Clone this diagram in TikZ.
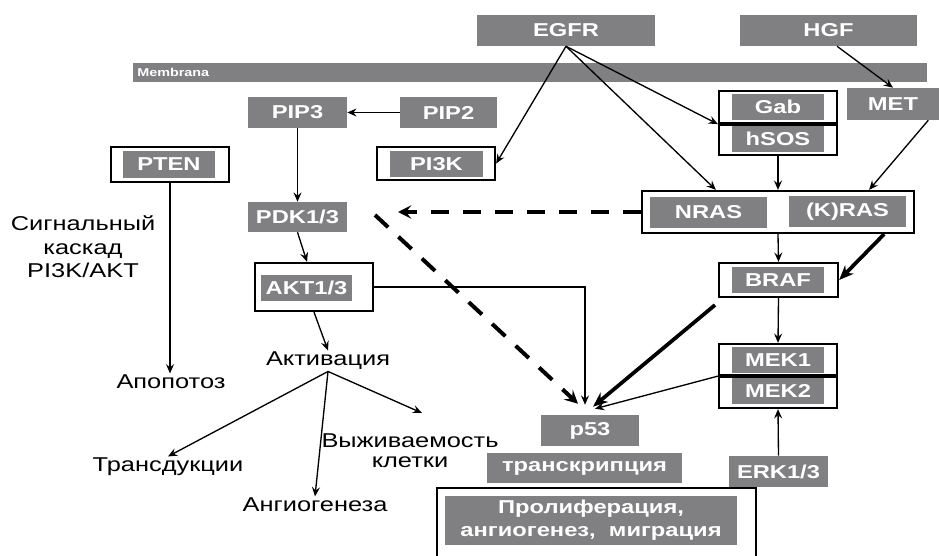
\documentclass[tikz,border=0pt]{standalone}
\usepackage{fontspec}
\setmainfont{Liberation Sans}[FakeStretch=1.27]
\usetikzlibrary{arrows.meta,calc}
\definecolor{bgray}{RGB}{128,128,131}
\tikzset{
  gb/.style={fill=bgray, text=white, font=\bfseries\fontsize{14}{17}\selectfont, inner sep=0pt, draw=none, align=center},
  fr/.style={draw=black, line width=1.7pt, inner sep=0pt, fill=none},
  lbl/.style={font=\fontsize{15}{15}\selectfont, inner sep=1pt, align=center},
  arr/.style={-{Stealth[length=7pt,width=6pt,inset=2.5pt]}, line width=1pt},
  thickarr/.style={-{Stealth[length=11pt,width=9pt,inset=3.5pt]}, line width=2.8pt},
  dasharr/.style={-{Stealth[length=10pt,width=10pt,inset=4pt]}, line width=3pt, dash pattern=on 13.5pt off 10.5pt},
  divider/.style={line width=2.6pt},
}
\newcommand\rnode[7]{\node[#1, minimum width={(#5-#3)*0.75pt}, minimum height={(#6-#4)*0.75pt}] (#2) at ({(#3+#5)/2},{(#4+#6)/2}) {#7};}
\begin{document}
\begin{tikzpicture}[x=0.75pt,y=-0.75pt]
\useasboundingbox (0,0) rectangle (939,556);
% boxes
\rnode{gb}{egfr}{477}{15}{655}{46}{EGFR}
\rnode{gb}{hgf}{740}{15}{917}{46}{HGF}
\rnode{gb}{membr}{133}{63}{927}{82}{}
\node[anchor=west, text=white, font=\bfseries\fontsize{8.5}{9}\selectfont, inner sep=0pt] (memlbl) at (137,72.5) {Membrana};
\rnode{gb}{pip3}{248}{97}{347}{128}{PIP3}
\rnode{gb}{pip2}{400}{97}{497}{128}{PIP2}
\rnode{fr}{ptenf}{111}{147}{229}{182}{}
\rnode{gb}{pten}{123}{151}{215}{178}{PTEN}
\rnode{fr}{pi3kf}{377}{147}{495}{180}{}
\rnode{gb}{pi3k}{390}{151}{483}{177}{PI3K}
\rnode{fr}{gabf}{719}{91}{837}{123}{}
\rnode{gb}{gab}{732}{94}{824}{120}{Gab}
\rnode{fr}{hsosf}{719}{123}{837}{155}{}
\rnode{gb}{hsos}{732}{126}{824}{152}{hSOS}
\draw[divider] (gabf.south west) -- (gabf.south east);
\rnode{gb}{met}{847}{88}{939}{120}{MET}
\rnode{fr}{rasf}{642}{191}{914}{233}{}
\rnode{gb}{nras}{650}{197}{767}{228}{NRAS}
\rnode{gb}{kras}{789}{196}{906}{227}{(K)RAS}
\rnode{fr}{braff}{719}{263}{838}{297}{}
\rnode{gb}{braf}{732}{267}{824}{293}{BRAF}
\rnode{fr}{mek1f}{719}{344}{837}{375}{}
\rnode{gb}{mek1}{732}{347}{824}{373}{MEK1}
\rnode{fr}{mek2f}{719}{375}{837}{408}{}
\rnode{gb}{mek2}{732}{378}{824}{404}{MEK2}
\draw[divider] (mek1f.south west) -- (mek1f.south east);
\rnode{gb}{erk}{729}{456}{828}{487}{ERK1/3}
\rnode{gb}{p53}{541}{415}{639}{446}{p53}
\rnode{gb}{transc}{487}{453}{682}{483}{транскрипция}
\rnode{gb}{prolif}{445}{496}{737}{545}{Пролиферация,\\ангиогенез,\ \ миграция}
\draw[line width=1.7pt] (437,558) |- (756,488) -- (756,558);
\rnode{gb}{pdk}{248}{202}{347}{232}{PDK1/3}
\rnode{fr}{aktf}{255}{263}{373}{311}{}
\rnode{gb}{akt}{261}{275}{352}{301}{AKT1/3}
% labels
\node[lbl, font=\fontsize{15}{17.6}\selectfont] (cascade) at (83,247) {Сигнальный\\каскад\\PI3K/AKT};
\node[lbl] (activ) at (328,361) {Активация};
\node[lbl] (apop) at (171,382) {Апопотоз};
\node[lbl] (trans) at (168,467) {Трансдукции};
\node[lbl] (angio) at (315,505) {Ангиогенеза};
\node[lbl] (surv) at (410,451) {Выживаемость\\клетки};
% free ends
\coordinate (survtip) at (422,413);
\coordinate (dashtip) at (398,212);
\coordinate (dstart) at (375,215);
\coordinate (tstart) at (715,305);
% connectors
\draw[arr] (egfr.south) -- (pi3kf.east);
\draw[arr] (egfr.south) -- (gabf.south west);
\draw[arr] (egfr.south) -- ([xshift=56.25pt]rasf.north west);
\draw[arr] ([xshift=6.4pt]hgf.south) -- (met.north);
\draw[arr] ([xshift=-8.25pt]met.south east) -- ([xshift=-34.5pt]rasf.north east);
\draw[arr] (hsosf.south) -- (rasf.north);
\draw[arr] (pip2.west) -- (pip3.east);
\draw[arr] (pip3.south) -- (pdk.north);
\draw[arr] (pdk.south) -- ([xshift=-5.25pt]aktf.north);
\draw[arr] (aktf.south) -- (activ.north);
\draw[arr] (ptenf.south) -- (ptenf.south |- apop.north);
\draw[arr] (activ.south) -- (trans.north);
\draw[arr] (activ.south) -- (angio.north);
\draw[arr] (activ.south) -- (survtip);
\draw[arr] (aktf.east) -| ([xshift=-3.75pt,yshift=7.5pt]p53.north);
\draw[dasharr] (rasf.west) -- (dashtip);
\draw[dasharr] (dstart) -- ([xshift=-9pt,yshift=8.25pt]p53.north);
\draw[thickarr] (tstart) -- ([xshift=2.25pt,yshift=6pt]p53.north);
\draw[arr] (mek1f.south west) -- ([xshift=3.75pt,yshift=4.5pt]p53.north);
\draw[thickarr] ([xshift=-23.25pt]rasf.south east) -- (braff.east);
\draw[arr] (rasf.south) -- (braff.north);
\draw[arr] (braff.south) -- (mek1f.north);
\draw[arr] (erk.north) -- (mek2f.south);
\end{tikzpicture}
\end{document}
